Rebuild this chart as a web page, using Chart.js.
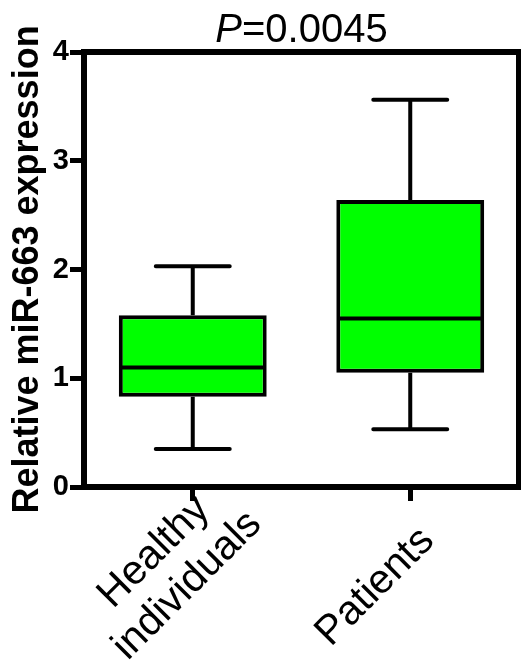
<!DOCTYPE html>
<html><head><meta charset="utf-8">
<script src="https://cdn.jsdelivr.net/npm/chart.js@4/dist/chart.umd.min.js"></script>
<style>html,body{margin:0;padding:0;background:#fff}#wrap{width:521px;height:664px;position:relative}</style>
</head><body><div id="wrap"><canvas id="c" width="521" height="664"></canvas></div>
<script>
const categories = [['Healthy', 'individuals'], 'Patients'];
const whiskerMin = [0.35, 0.53];
const q1 = [0.83, 1.05];
const median = [1.10, 1.55];
const q3 = [1.58, 2.64];
const whiskerMax = [2.03, 3.56];
const yTicks = [0, 1, 2, 3, 4];
const titleParts = ['P', '=0.0045'];
const yTitle = 'Relative miR-663 expression';

const FONT = "'Liberation Sans', Arial, Helvetica, sans-serif";
const X_LABEL_SIZE = 41;
const X_LINE_H = 47;

const boxPlugin = {
  id: 'boxExtras',
  afterDatasetsDraw(chart) {
    const ctx = chart.ctx;
    const y = chart.scales.y;
    const meta = chart.getDatasetMeta(0);
    ctx.save();
    ctx.strokeStyle = '#000';
    ctx.lineWidth = 4;
    ctx.lineCap = 'butt';
    meta.data.forEach((bar, i) => {
      const cx = bar.x, w = bar.width;
      const capHalf = w * 0.25;
      const pMin = y.getPixelForValue(whiskerMin[i]);
      const pMax = y.getPixelForValue(whiskerMax[i]);
      const pQ1 = y.getPixelForValue(q1[i]);
      const pQ3 = y.getPixelForValue(q3[i]);
      const pMed = y.getPixelForValue(median[i]);
      ctx.beginPath();
      ctx.moveTo(cx, pQ3); ctx.lineTo(cx, pMax);
      ctx.moveTo(cx, pQ1); ctx.lineTo(cx, pMin);
      ctx.moveTo(cx - w / 2 + 2, pMed); ctx.lineTo(cx + w / 2 - 2, pMed);
      ctx.stroke();
      ctx.lineCap = 'round';
      ctx.beginPath();
      ctx.moveTo(cx - capHalf, pMax); ctx.lineTo(cx + capHalf, pMax);
      ctx.moveTo(cx - capHalf, pMin); ctx.lineTo(cx + capHalf, pMin);
      ctx.stroke();
      ctx.lineCap = 'butt';
    });
    ctx.restore();
  },
  afterDraw(chart) {
    const ctx = chart.ctx;
    const a = chart.chartArea;
    ctx.save();
    ctx.strokeStyle = '#000';
    ctx.lineWidth = 6;
    ctx.beginPath();
    ctx.moveTo(a.left - 3, a.top); ctx.lineTo(a.right, a.top); ctx.lineTo(a.right, a.bottom);
    ctx.stroke();
    // title with italic P
    ctx.fillStyle = '#000';
    ctx.textBaseline = 'alphabetic';
    ctx.textAlign = 'left';
    const f1 = "italic 40px " + FONT, f2 = "40px " + FONT;
    ctx.font = f1; const w1 = ctx.measureText(titleParts[0]).width;
    ctx.font = f2; const w2 = ctx.measureText(titleParts[1]).width;
    const cx = (a.left + a.right) / 2;
    const x0 = cx - (w1 + w2) / 2;
    ctx.font = f1; ctx.fillText(titleParts[0], x0, 42);
    ctx.font = f2; ctx.fillText(titleParts[1], x0 + w1, 42);
    // rotated category labels (centred lines, 45 degrees)
    const xs = chart.scales.x;
    ctx.font = X_LABEL_SIZE + "px " + FONT;
    ctx.textAlign = 'center';
    ctx.textBaseline = 'middle';
    categories.forEach((lab, i) => {
      const lines = Array.isArray(lab) ? lab : [lab];
      const n = lines.length - 1;
      const tx = xs.getPixelForValue(i);
      ctx.save();
      ctx.translate(tx - 35 + 13 * n, a.bottom + 100 - 18 * n);
      ctx.rotate(-Math.PI / 4);
      lines.forEach((ln, j) => ctx.fillText(ln, 0, (j - n / 2) * X_LINE_H));
      ctx.restore();
    });
    ctx.restore();
  }
};

new Chart(document.getElementById('c'), {
  type: 'bar',
  data: {
    labels: categories,
    datasets: [{
      data: q1.map((v, i) => [v, q3[i]]),
      backgroundColor: '#00ff00',
      borderColor: '#000',
      borderWidth: 4,
      borderSkipped: false,
      barPercentage: 0.68,
      categoryPercentage: 1.0
    }]
  },
  options: {
    responsive: false,
    devicePixelRatio: 1,
    animation: false,
    layout: { padding: { top: 52, right: 2, left: 6, bottom: 0 } },
    plugins: { legend: { display: false }, tooltip: { enabled: false }, title: { display: false } },
    scales: {
      x: {
        afterFit(scale) { scale.height = 177; },
        grid: { offset: false, drawOnChartArea: false, drawTicks: true, tickLength: 14, lineWidth: 5, color: '#000' },
        border: { display: true, width: 6, color: '#000' },
        ticks: { display: false }
      },
      y: {
        min: 0, max: 4,
        afterBuildTicks(scale) { scale.ticks = yTicks.map(v => ({ value: v })); },
        afterFit(scale) { scale.width = 78; },
        grid: { drawOnChartArea: false, drawTicks: true, tickLength: 14, lineWidth: 5, color: '#000' },
        border: { display: true, width: 6, color: '#000' },
        ticks: { color: '#000', font: { family: FONT, size: 29, weight: 'bold' }, padding: 1 },
        title: { display: true, text: yTitle, color: '#000', font: { family: FONT, size: 36, weight: 'bold' }, padding: { top: 0, bottom: 0 } }
      }
    }
  },
  plugins: [boxPlugin]
});
</script>
</body></html>
